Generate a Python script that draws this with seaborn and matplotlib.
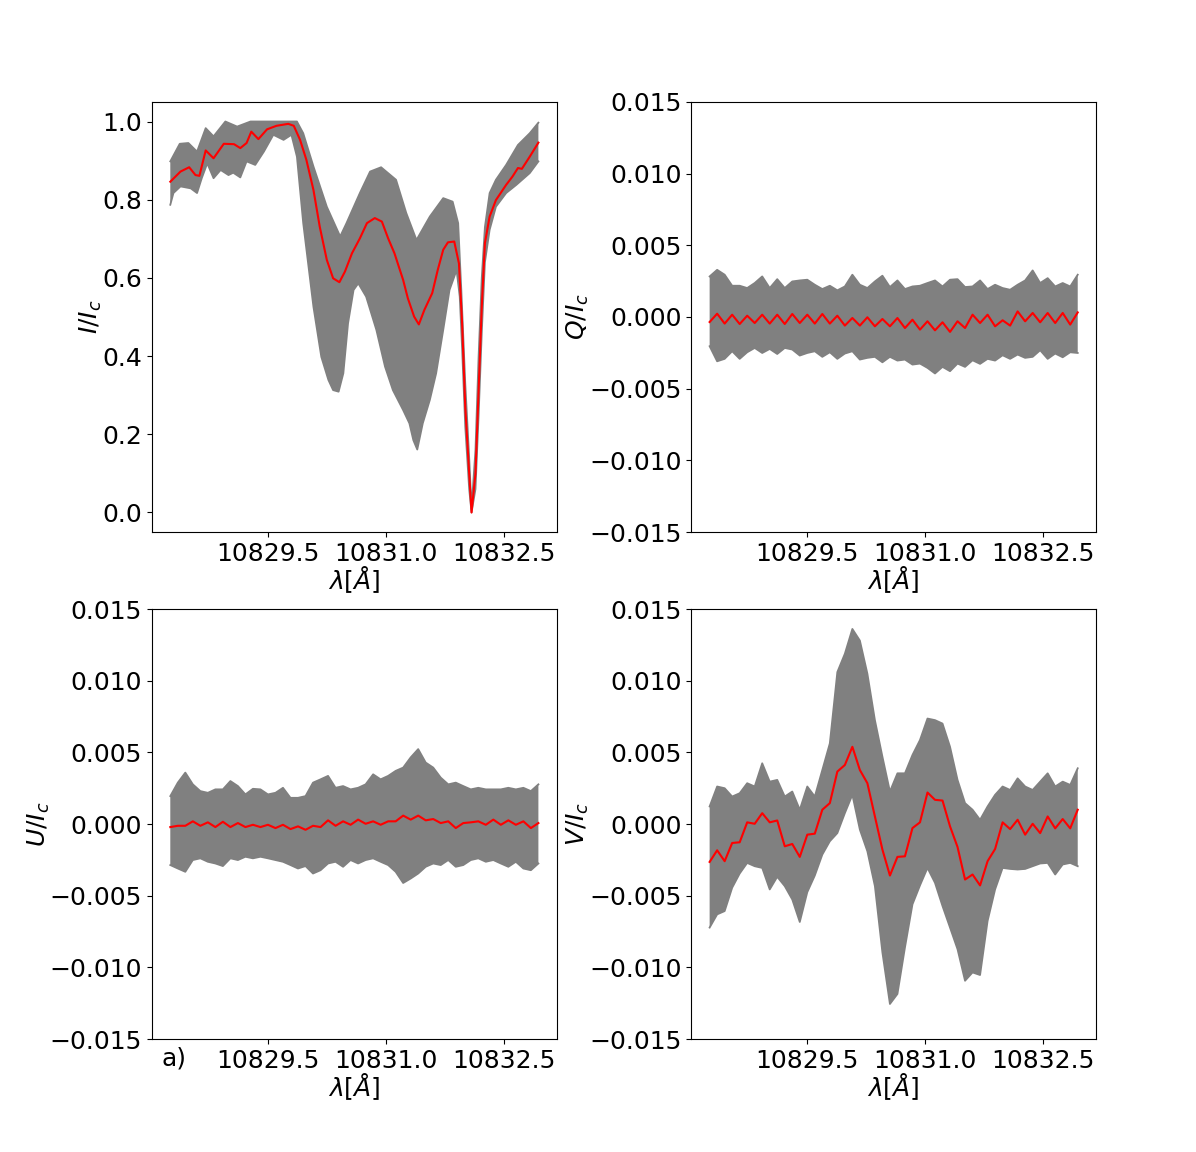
import numpy as np
import matplotlib
matplotlib.use("Agg")
import matplotlib.pyplot as plt
import seaborn as sns

# ---- data ----

# Stokes I (own wavelength samples, the core is narrow)
i_mean_wl = [10828.26, 10828.39, 10828.50, 10828.58, 10828.63, 10828.71, 10828.81, 10828.94, 10829.07, 10829.15,
             10829.23, 10829.29, 10829.38, 10829.49, 10829.61, 10829.76, 10829.83, 10829.91, 10829.99, 10830.08,
             10830.16, 10830.25, 10830.33, 10830.41, 10830.48, 10830.57, 10830.67, 10830.76, 10830.86, 10830.95,
             10831.03, 10831.11, 10831.22, 10831.28, 10831.36, 10831.42, 10831.49, 10831.59, 10831.66, 10831.73,
             10831.79, 10831.87, 10831.93, 10831.97, 10832.01, 10832.06, 10832.09, 10832.14, 10832.18, 10832.22,
             10832.26, 10832.32, 10832.40, 10832.53, 10832.61, 10832.68, 10832.73, 10832.83, 10832.94]
i_mean = [0.846, 0.872, 0.883, 0.863, 0.861, 0.926, 0.906, 0.943, 0.942, 0.932,
          0.945, 0.974, 0.955, 0.980, 0.989, 0.994, 0.989, 0.953, 0.902, 0.825,
          0.731, 0.646, 0.599, 0.589, 0.616, 0.663, 0.701, 0.740, 0.753, 0.744,
          0.701, 0.663, 0.595, 0.548, 0.501, 0.481, 0.518, 0.561, 0.620, 0.672,
          0.691, 0.693, 0.637, 0.484, 0.270, 0.100, 0.0, 0.100, 0.313, 0.526,
          0.689, 0.757, 0.799, 0.838, 0.859, 0.881, 0.879, 0.910, 0.946]

i_top_wl = [10828.26, 10828.38, 10828.49, 10828.60, 10828.71, 10828.81, 10828.96, 10829.11, 10829.28, 10829.45,
            10829.87, 10829.95, 10830.08, 10830.25, 10830.42, 10830.50, 10830.67, 10830.80, 10830.94, 10831.13,
            10831.26, 10831.39, 10831.56, 10831.73, 10831.85, 10831.92, 10831.96, 10832.01, 10832.06, 10832.09,
            10832.14, 10832.18, 10832.22, 10832.26, 10832.32, 10832.40, 10832.53, 10832.68, 10832.83, 10832.94]
i_top = [0.898, 0.943, 0.945, 0.923, 0.983, 0.962, 1.0, 0.987, 1.0, 1.0,
         1.0, 0.970, 0.885, 0.782, 0.706, 0.740, 0.817, 0.872, 0.883, 0.851,
         0.766, 0.697, 0.757, 0.804, 0.795, 0.740, 0.569, 0.33, 0.14, 0.01,
         0.16, 0.40, 0.60, 0.73, 0.817, 0.851, 0.889, 0.940, 0.970, 0.997]

i_bot_wl = [10828.26, 10828.30, 10828.39, 10828.52, 10828.60, 10828.66, 10828.73, 10828.81, 10828.90, 10829.00,
            10829.06, 10829.15, 10829.23, 10829.34, 10829.45, 10829.57, 10829.70, 10829.80, 10829.87, 10829.95,
            10830.08, 10830.18, 10830.27, 10830.33, 10830.40, 10830.46, 10830.52, 10830.59, 10830.65, 10830.75,
            10830.88, 10830.99, 10831.09, 10831.22, 10831.30, 10831.35, 10831.40, 10831.47, 10831.56, 10831.64,
            10831.73, 10831.81, 10831.90, 10831.94, 10831.97, 10832.01, 10832.06, 10832.09, 10832.14, 10832.18,
            10832.22, 10832.26, 10832.32, 10832.40, 10832.53, 10832.66, 10832.83, 10832.94]
i_bot = [0.787, 0.817, 0.834, 0.829, 0.817, 0.855, 0.893, 0.855, 0.876, 0.863,
         0.869, 0.857, 0.898, 0.889, 0.923, 0.966, 0.953, 0.966, 0.910, 0.740,
         0.526, 0.398, 0.339, 0.313, 0.309, 0.356, 0.484, 0.569, 0.586, 0.552,
         0.467, 0.373, 0.313, 0.262, 0.228, 0.185, 0.161, 0.228, 0.288, 0.356,
         0.467, 0.569, 0.620, 0.552, 0.42, 0.22, 0.06, 0.0, 0.06, 0.25,
         0.46, 0.64, 0.723, 0.782, 0.817, 0.838, 0.868, 0.898]

# Q, U, V sampled on a common wavelength grid, values in units of 1e-4
wl = np.linspace(10828.26, 10832.94, 50)

q_mean = [-3.5, 2.3, -4.6, 1.6, -4.9, 0.9, -4.2, 1.6, -4.6, 1.6,
          -4.9, 2.1, -4.2, 1.6, -4.6, 2.1, -4.6, 0.9, -6.0, -0.7,
          -6.0, -0.2, -6.5, -1.4, -6.5, -0.7, -7.7, -1.9, -8.8, -3.0,
          -9.3, -3.7, -10.4, -3.0, -7.7, 1.6, -4.2, 1.6, -6.5, -2.3,
          -6.0, 3.9, -3.0, 2.8, -3.7, 2.8, -4.2, 2.8, -5.3, 3.2]
q_top = [28.3, 32.9, 29.5, 21.8, 21.8, 20.2, 23.7, 28.3, 20.2, 26.4,
         20.2, 24.8, 25.5, 26.0, 22.5, 19.5, 21.8, 18.6, 21.3, 29.5,
         22.5, 20.2, 24.8, 28.8, 20.9, 25.5, 19.5, 21.3, 21.8, 23.7,
         25.5, 21.3, 26.0, 26.4, 20.9, 21.3, 25.5, 19.5, 22.5, 20.2,
         19.0, 22.5, 25.5, 32.5, 23.7, 27.1, 21.3, 23.7, 21.3, 29.5]
q_bot = [-20.4, -30.9, -29.2, -23.9, -29.2, -24.6, -21.6, -25.1, -22.3, -25.8,
         -21.6, -22.7, -26.9, -25.1, -23.9, -27.8, -24.6, -29.2, -25.5, -23.9,
         -29.7, -28.5, -27.8, -31.6, -27.8, -30.4, -29.7, -33.2, -32.5, -35.5,
         -39.4, -34.8, -37.8, -32.5, -34.8, -30.2, -32.7, -29.2, -30.4, -26.7,
         -29.2, -26.2, -28.5, -27.8, -23.2, -29.2, -25.5, -28.1, -24.6, -25.1]

u_mean = [-2.1, -1.2, -1.2, 1.9, -1.2, 1.2, -2.1, 1.6, -2.1, 0.7,
          -2.1, -0.5, -2.1, -0.5, -2.8, -0.5, -3.5, -1.6, -4.0, -1.2,
          -2.1, 2.6, -1.2, 1.9, -0.5, 3.1, 0.2, 1.9, -0.5, 1.9,
          1.9, 5.9, 3.1, 5.9, 2.6, 3.5, 0.7, 1.9, -2.8, 0.7,
          1.2, 1.9, -0.5, 3.1, -0.5, 2.6, -0.5, 1.9, -2.8, 0.7]
u_top = [19.5, 28.9, 35.9, 27.7, 23.0, 21.8, 24.2, 24.2, 30.0, 26.5,
         20.7, 24.6, 24.2, 20.7, 21.8, 25.3, 18.3, 18.3, 19.5, 28.9,
         31.2, 33.6, 25.3, 26.5, 24.2, 25.3, 27.7, 34.7, 31.2, 33.6,
         37.1, 39.4, 46.5, 52.3, 42.9, 39.4, 32.4, 27.7, 28.9, 26.5,
         24.2, 25.3, 24.2, 24.2, 24.2, 25.3, 24.2, 25.3, 23.0, 27.7]
u_bot = [-28.6, -31.0, -33.3, -25.1, -23.9, -26.3, -27.5, -29.3, -23.9, -25.1,
         -22.8, -23.9, -22.8, -23.9, -25.1, -26.3, -28.6, -31.0, -29.3, -34.5,
         -32.2, -27.5, -26.3, -29.8, -25.1, -27.5, -25.1, -23.9, -26.3, -28.6,
         -33.3, -41.1, -38.0, -34.5, -29.8, -27.5, -28.6, -25.1, -29.8, -28.6,
         -25.1, -23.9, -26.3, -25.1, -27.5, -29.8, -26.3, -31.0, -32.2, -27.5]

v_mean = [-26.4, -18.3, -25.9, -13.2, -12.7, 1.2, 0.2, 7.6, 1.2, 2.5,
          -15.5, -13.9, -22.9, -7.4, -6.7, 10.0, 14.6, 36.6, 41.2, 53.9,
          37.7, 28.5, 5.3, -17.8, -35.9, -22.9, -22.5, -2.8, 1.2, 22.0,
          16.9, 16.4, -1.6, -16.0, -38.7, -35.2, -42.8, -25.9, -17.4, 1.2,
          -3.5, 3.0, -7.4, 0.2, -6.3, 5.3, -3.0, 3.5, -3.0, 10.0]
v_top = [12.3, 26.2, 25.0, 19.2, 21.5, 28.5, 26.2, 42.4, 29.6, 30.8,
         19.2, 22.7, 10.0, 26.2, 19.2, 37.7, 56.3, 106.0, 118.8, 136.1,
         128.0, 104.9, 72.5, 47.0, 22.7, 35.4, 35.4, 48.2, 58.6, 73.6,
         72.5, 70.1, 53.9, 30.8, 14.6, 10.0, 3.0, 12.3, 20.4, 26.2,
         23.8, 31.9, 26.2, 23.8, 29.6, 35.4, 26.2, 29.6, 27.3, 38.9]
v_bot = [-72.2, -63.0, -60.7, -44.4, -34.5, -27.1, -29.4, -30.6, -45.6, -36.8,
         -43.3, -52.6, -68.3, -47.5, -35.9, -21.3, -12.0, -6.3, 7.6, 20.4,
         -3.9, -19.0, -43.3, -89.6, -125.5, -118.5, -86.1, -56.0, -42.8, -30.6,
         -41.0, -57.2, -72.2, -87.3, -109.3, -103.5, -105.3, -67.6, -45.6, -30.6,
         -31.3, -31.7, -31.3, -29.4, -27.5, -27.1, -35.2, -28.2, -27.1, -29.4]

x_ticks = [10829.5, 10831.0, 10832.5]
x_ticklabels = ['10829.5', '10831.0', '10832.5']
pol_ticks = [-0.015, -0.010, -0.005, 0.0, 0.005, 0.010, 0.015]

FS = 18


def draw_band(ax, x_top, top, x_bot, bot, mean_x, mean):
    x_top, top = np.asarray(x_top), np.asarray(top)
    x_bot, bot = np.asarray(x_bot), np.asarray(bot)
    # spread of all profiles as a gray band, mean profile in red
    ax.fill(np.r_[x_top, x_bot[::-1]], np.r_[top, bot[::-1]], color='gray', lw=0)
    sns.lineplot(x=x_top, y=top, ax=ax, color='gray', lw=1.3)
    sns.lineplot(x=x_bot, y=bot, ax=ax, color='gray', lw=1.3)
    sns.lineplot(x=np.asarray(mean_x), y=np.asarray(mean), ax=ax, color='red', lw=1.5)


fig, axes = plt.subplots(2, 2, figsize=(11.96, 11.52), dpi=100)
plt.subplots_adjust(left=0.127, right=0.9165, top=0.9115, bottom=0.098,
                    wspace=0.332, hspace=0.179)

s = 1e-4
draw_band(axes[0, 0], i_top_wl, i_top, i_bot_wl, i_bot, i_mean_wl, i_mean)
draw_band(axes[0, 1], wl, np.array(q_top) * s, wl, np.array(q_bot) * s, wl, np.array(q_mean) * s)
draw_band(axes[1, 0], wl, np.array(u_top) * s, wl, np.array(u_bot) * s, wl, np.array(u_mean) * s)
draw_band(axes[1, 1], wl, np.array(v_top) * s, wl, np.array(v_bot) * s, wl, np.array(v_mean) * s)

ylabels = [r'$I/I_c$', r'$Q/I_c$', r'$U/I_c$', r'$V/I_c$']
for ax, lab in zip(axes.flat, ylabels):
    ax.set_xlim(10828.026, 10833.174)
    ax.set_xticks(x_ticks)
    ax.set_xticklabels(x_ticklabels)
    ax.set_xlabel(r'$\lambda[\AA]$', fontsize=FS, labelpad=-1)
    ax.set_ylabel(lab, fontsize=FS, labelpad=-1.5)
    ax.tick_params(labelsize=FS)

axes[0, 0].set_ylim(-0.05, 1.05)
axes[0, 0].set_yticks([0.0, 0.2, 0.4, 0.6, 0.8, 1.0])
for ax in [axes[0, 1], axes[1, 0], axes[1, 1]]:
    ax.set_ylim(-0.015, 0.015)
    ax.set_yticks(pol_ticks)

axes[1, 0].text(0.024, -0.045, 'a)', transform=axes[1, 0].transAxes,
                fontsize=FS, ha='left', va='center')

plt.savefig('out.png', dpi=100)
